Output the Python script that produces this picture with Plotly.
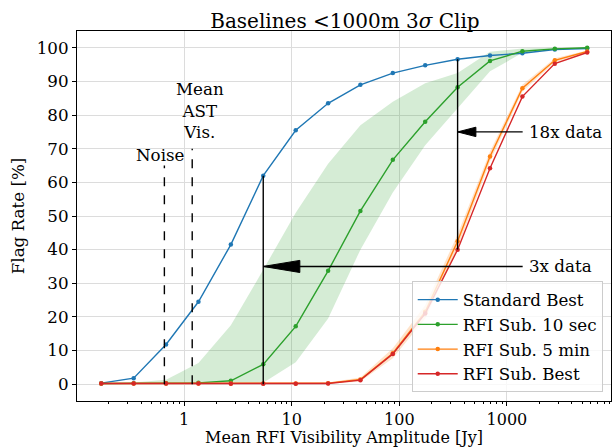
import numpy as np
import plotly.graph_objects as go

# Mean RFI visibility amplitude [Jy] (factor-of-two steps)
amplitude = [0.17, 0.34, 0.68, 1.36, 2.72, 5.44, 10.9, 21.8, 43.5, 87.0,
             174.0, 348.0, 696.0, 1392.0, 2785.0, 5570.0]

# Flag rates [%]
standard_best = [0.3, 1.8, 11.8, 24.5, 41.5, 62.0, 75.5, 83.5, 89.0, 92.5,
                 94.8, 96.6, 97.7, 98.4, 99.5, 99.8]
rfi_sub_10s = [0.2, 0.3, 0.3, 0.4, 1.0, 5.9, 17.2, 33.7, 51.5, 66.7,
               78.0, 88.3, 96.1, 99.0, 99.7, 100.0]
rfi_sub_10s_low = [0.0, 0.0, 0.0, 0.0, 0.1, 0.4, 6.5, 19.5, 40.0, 57.0,
                   71.0, 82.0, 93.0, 98.5, 99.5, 100.0]
rfi_sub_10s_high = [0.3, 0.5, 1.3, 6.3, 17.5, 34.0, 51.0, 65.5, 77.0, 84.0,
                    89.5, 92.5, 98.8, 99.8, 100.0, 100.0]
rfi_sub_5min = [0.2, 0.2, 0.2, 0.2, 0.2, 0.2, 0.2, 0.3, 1.4, 9.2,
                21.5, 42.5, 67.7, 88.0, 96.3, 98.9]
rfi_sub_5min_spread = [0.1, 0.1, 0.1, 0.1, 0.1, 0.1, 0.1, 0.2, 0.6, 1.5,
                       2.0, 2.0, 1.5, 1.0, 0.6, 0.3]
rfi_sub_best = [0.2, 0.2, 0.2, 0.2, 0.1, 0.1, 0.1, 0.2, 1.2, 9.0,
                21.0, 40.0, 64.2, 85.5, 95.3, 98.6]

# Reference levels [Jy]
noise_level = 0.656
mean_ast_vis = 1.19

# Data-volume comparisons: (index into amplitude, arrow height, label,
# head length in decades, head half-height in %)
comparisons = [(5, 35.0, "3x data", 0.34, 1.8), (11, 75.0, "18x data", 0.17, 1.4)]
arrow_tail = 1400.0
label_x = 1530.0

C_BLUE = "#1f77b4"
C_GREEN = "#2ca02c"
C_ORANGE = "#ff7f0e"
C_RED = "#d62728"
FONT = "DejaVu Serif"
BASE_SIZE = 16.7
XAXIS_SIZE = 16
TITLE_SIZE = 20

fig = go.Figure()

# Spread of the 10 sec subtraction
fig.add_trace(go.Scatter(x=amplitude, y=rfi_sub_10s_low, mode="lines",
                         line=dict(width=0), hoverinfo="skip", showlegend=False))
fig.add_trace(go.Scatter(x=amplitude, y=rfi_sub_10s_high, mode="lines",
                         line=dict(width=0), fill="tonexty",
                         fillcolor="rgba(44,160,44,0.2)", hoverinfo="skip",
                         showlegend=False))

# Spread of the 5 min subtraction
lo5 = [v - s for v, s in zip(rfi_sub_5min, rfi_sub_5min_spread)]
hi5 = [v + s for v, s in zip(rfi_sub_5min, rfi_sub_5min_spread)]
fig.add_trace(go.Scatter(x=amplitude, y=lo5, mode="lines", line=dict(width=0),
                         hoverinfo="skip", showlegend=False))
fig.add_trace(go.Scatter(x=amplitude, y=hi5, mode="lines", line=dict(width=0),
                         fill="tonexty", fillcolor="rgba(255,127,14,0.22)",
                         hoverinfo="skip", showlegend=False))

series = [
    ("Standard Best", standard_best, C_BLUE),
    ("RFI Sub. 10 sec", rfi_sub_10s, C_GREEN),
    ("RFI Sub. 5 min", rfi_sub_5min, C_ORANGE),
    ("RFI Sub. Best", rfi_sub_best, C_RED),
]
for name, vals, col in series:
    fig.add_trace(go.Scatter(x=amplitude, y=vals, mode="lines+markers", name=name,
                             line=dict(color=col, width=1.4),
                             marker=dict(color=col, size=4.5)))

# Dashed reference lines
for xv, top in [(noise_level, 65.0), (mean_ast_vis, 70.0)]:
    fig.add_trace(go.Scatter(x=[xv, xv], y=[0, top], mode="lines",
                             line=dict(color="black", width=1.4, dash="dash"),
                             hoverinfo="skip", showlegend=False))

# Comparison markers: vertical span and arrow pointing at it
for idx, yv, label, head_dec, head_half in comparisons:
    xv = amplitude[idx]
    bottom = min(rfi_sub_best[idx], rfi_sub_5min[idx])
    if idx == 5:
        bottom = 0.0
    fig.add_trace(go.Scatter(x=[xv, xv], y=[bottom, standard_best[idx]], mode="lines",
                             line=dict(color="black", width=1.4),
                             hoverinfo="skip", showlegend=False))
    fig.add_trace(go.Scatter(x=[xv, arrow_tail], y=[yv, yv], mode="lines",
                             line=dict(color="black", width=1.4),
                             hoverinfo="skip", showlegend=False))
    base = xv * 10 ** head_dec
    fig.add_trace(go.Scatter(x=[xv, base, base, xv], y=[yv, yv + head_half, yv - head_half, yv],
                             mode="lines", fill="toself", fillcolor="black",
                             line=dict(color="black", width=1),
                             hoverinfo="skip", showlegend=False))
    fig.add_annotation(x=np.log10(label_x), y=yv, text=label, showarrow=False,
                       xanchor="left", yanchor="middle",
                       font=dict(family=FONT, size=BASE_SIZE, color="black"))

fig.add_annotation(x=np.log10(0.60), y=64.5, text="Noise", showarrow=False,
                   xanchor="center", yanchor="bottom",
                   font=dict(family=FONT, size=BASE_SIZE, color="black"))
fig.add_annotation(x=np.log10(1.41), y=71.5, text="Mean<br>AST<br>Vis.", showarrow=False,
                   xanchor="center", yanchor="bottom", align="center",
                   font=dict(family=FONT, size=BASE_SIZE, color="black"))

axis_common = dict(showline=True, linecolor="black", linewidth=1.2, mirror=True,
                   ticks="outside", tickcolor="black",
                   gridcolor="#dcdcdc", gridwidth=1, zeroline=False)

fig.update_xaxes(type="log", range=[-0.995, 3.967], ticklen=3.5,
                 tickvals=[1, 10, 100, 1000], ticktext=["1", "10", "100", "1000"],
                 tickfont=dict(family=FONT, size=XAXIS_SIZE, color="black"),
                 minor=dict(ticks="outside", ticklen=2, tickcolor="black",
                            dtick="D1", showgrid=False),
                 title=dict(text="Mean RFI Visibility Amplitude [Jy]", standoff=1,
                            font=dict(family=FONT, size=XAXIS_SIZE, color="black")),
                 **axis_common)
fig.update_yaxes(range=[-5, 105], tickvals=list(range(0, 101, 10)), ticklen=4,
                 tickfont=dict(family=FONT, size=BASE_SIZE, color="black"),
                 title=dict(text="Flag Rate [%]", standoff=7,
                            font=dict(family=FONT, size=BASE_SIZE, color="black")),
                 **axis_common)

fig.update_layout(
    width=614, height=447,
    margin=dict(l=77, r=3, t=31, b=46),
    paper_bgcolor="white", plot_bgcolor="white",
    title=dict(text="Baselines <1000m 3<i>σ</i> Clip", x=0.5618, xanchor="center",
               y=1, yref="paper", yanchor="bottom", pad=dict(b=3),
               font=dict(family=FONT, size=TITLE_SIZE, color="black")),
    legend=dict(x=0.9845, y=0.0235, xanchor="right", yanchor="bottom",
                bgcolor="rgba(255,255,255,0.8)", bordercolor="#cccccc", borderwidth=1,
                font=dict(family=FONT, size=BASE_SIZE, color="black"),
                traceorder="normal", tracegroupgap=0, itemwidth=40),
    showlegend=True,
)

fig.write_html("out.html")
